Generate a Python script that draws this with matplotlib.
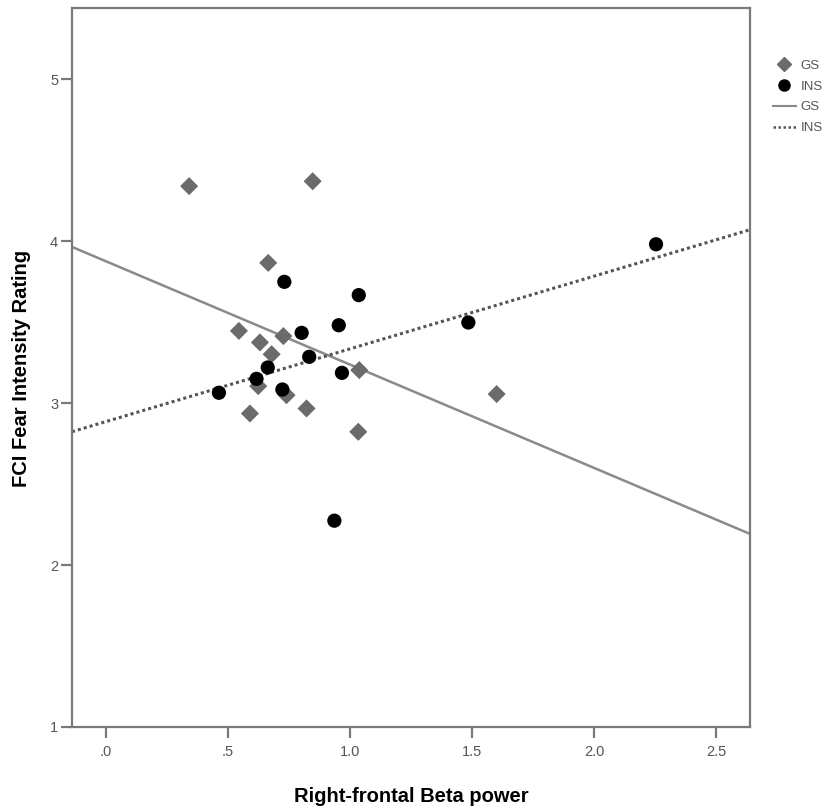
import matplotlib
matplotlib.use("Agg")
import matplotlib.pyplot as plt
import numpy as np
from matplotlib.lines import Line2D

plt.rcParams['font.family'] = ['Liberation Sans', 'DejaVu Sans']

# GS group (diamonds)
gs_x = [0.341, 0.847, 0.665, 0.545, 0.727, 0.631, 0.679, 0.624, 0.740, 0.590, 0.822, 1.038, 1.034, 1.601]
gs_y = [4.34, 4.37, 3.866, 3.446, 3.414, 3.375, 3.302, 3.105, 3.049, 2.936, 2.967, 3.204, 2.823, 3.056]

# INS group (circles)
ins_x = [0.731, 1.036, 1.485, 0.802, 0.954, 0.833, 0.663, 0.617, 0.463, 0.723, 0.967, 2.254, 0.936]
ins_y = [3.749, 3.667, 3.498, 3.434, 3.481, 3.286, 3.220, 3.150, 3.064, 3.084, 3.187, 3.981, 2.274]

# fit lines (intercept, slope)
gs_fit = [3.876, -0.638]
ins_fit = [2.886, 0.449]

x_ticks = [0.0, 0.5, 1.0, 1.5, 2.0, 2.5]
x_ticklabels = ['.0', '.5', '1.0', '1.5', '2.0', '2.5']
y_ticks = [1, 2, 3, 4, 5]
y_ticklabels = ['1', '2', '3', '4', '5']

W, H = 836, 811
fig = plt.figure(figsize=(W / 100, H / 100), dpi=100)
ax = fig.add_axes([72 / W, 1 - 727 / H, (750 - 72) / W, (727 - 8) / H])

xmin, xmax = -0.139, 2.639
ymin, ymax = 1.0, 5.44
ax.set_xlim(xmin, xmax)
ax.set_ylim(ymin, ymax)

spine_col = '#7a7a7a'
for s in ax.spines.values():
    s.set_color(spine_col)
    s.set_linewidth(1.6)

xs = np.array([xmin, xmax])
ax.plot(xs, gs_fit[0] + gs_fit[1] * xs, color='#8a8a8a', lw=1.8, zorder=2)
ax.plot(xs, ins_fit[0] + ins_fit[1] * xs, color='#555555', lw=2.2,
        linestyle=(0, (1.0, 1.0)), zorder=2)

ax.scatter(gs_x, gs_y, marker='D', s=85, color='#6b6b6b', edgecolors='none', zorder=3)
ax.scatter(ins_x, ins_y, marker='o', s=105, color='#000000', edgecolors='none', zorder=4)

ax.set_xticks(x_ticks)
ax.set_xticklabels(x_ticklabels)
ax.set_yticks(y_ticks)
ax.set_yticklabels(y_ticklabels)
ax.tick_params(axis='both', direction='out', length=8, width=1.6, color=spine_col,
               labelsize=10.5, labelcolor='#555555', pad=2)
ax.tick_params(axis='x', pad=5)

fig.text(411 / W, 1 - 797 / H, 'Right-frontal Beta power', fontsize=14.5,
         fontweight='bold', ha='center', va='center')
fig.text(22 / W, 1 - 368 / H, 'FCI Fear Intensity Rating', fontsize=14.5,
         fontweight='bold', ha='center', va='center', rotation=90)

handles = [
    Line2D([], [], marker='D', color='#6b6b6b', linestyle='none', markersize=7),
    Line2D([], [], marker='o', color='#000000', linestyle='none', markersize=8),
    Line2D([], [], color='#8a8a8a', lw=1.5),
    Line2D([], [], color='#555555', lw=1.8, linestyle=(0, (1.0, 1.0))),
]
labels = ['GS', 'INS', 'GS', 'INS']
fig.legend(handles, labels, loc='upper left', bbox_to_anchor=(766 / W, 1 - 53 / H),
           frameon=False, fontsize=9.5, handlelength=1.8, handletextpad=0.3,
           labelspacing=0.65, borderpad=0, labelcolor='#555555')

fig.savefig('out.png', dpi=100)
